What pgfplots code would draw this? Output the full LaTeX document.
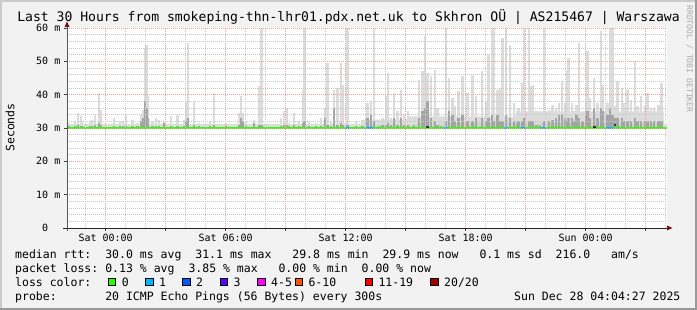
\documentclass[border=0pt]{standalone}
\usepackage{fontspec}
\usepackage{pgfplots}
\usepackage{pgfplotstable}
\pgfplotsset{compat=1.18}
\newfontfamily\mono{DejaVu Sans Mono}
\newcommand\titlefont{\mono\fontsize{13.1}{15}\selectfont}
\newcommand\legfont{\mono\fontsize{11.5}{13}\selectfont}
\newcommand\tickfont{\mono\fontsize{10}{12}\selectfont}
\newcommand\wmfont{\mono\fontsize{8.1}{9}\selectfont}
\definecolor{bg}{HTML}{F2F2F2}
\definecolor{shadea}{HTML}{CBCBCB}
\definecolor{shadeb}{HTML}{999999}
\definecolor{mgrid}{HTML}{F0A0A0}
\definecolor{mingrid}{HTML}{C8C8C8}
\definecolor{arrowc}{HTML}{801010}
\definecolor{smokelight}{HTML}{DCDCDC}
\definecolor{smokedark}{HTML}{A4A4A4}
\definecolor{smokemid}{HTML}{CFCFCF}
\definecolor{lc0}{HTML}{26FF00}
\definecolor{lc1}{HTML}{00B8FF}
\definecolor{lc2}{HTML}{0059FF}
\definecolor{lc3}{HTML}{5E00FF}
\definecolor{lc4}{HTML}{FF00FF}
\definecolor{lc6}{HTML}{FF5500}
\definecolor{lc11}{HTML}{FF0000}
\definecolor{lc20}{HTML}{A10000}
\definecolor{wm}{HTML}{ABABAB}

% t = hours since Sat 00:00, m = median (ms), hi = smoke top above median, lo = dense smoke above median
\pgfplotstableread{
t m hi lo
-1.84 30 1.5 0.5
-1.54 30 2.0 0.5
-1.39 30 4.5 0.8
-1.25 30 3.5 0.6
-1.17 30 2.0 0.5
-0.80 30 2.0 0.5
-0.70 30 2.5 0.5
-0.55 30 4.0 0.8
-0.34 30 10.5 1.5
-0.24 30 5.5 1.0
0.04 30 1.0 0.4
0.17 30 1.0 0.4
0.42 30 3.0 0.6
0.70 30 2.0 0.5
0.87 30 2.0 0.5
1.00 30 3.5 0.6
1.34 30 2.5 0.6
1.59 30 1.5 0.5
1.75 30 4.0 2.0
1.87 30 5.5 3.0
1.97 30 24.0 8.0
2.04 30 25.0 6.0
2.10 30 9.5 3.0
2.34 30 2.0 0.5
2.50 30 3.0 0.6
2.67 30 2.5 0.5
2.92 30 2.0 1.5
3.25 30 3.5 0.6
3.59 30 4.0 0.6
3.92 30 2.5 0.5
4.04 30 8.0 2.0
4.12 30 25.5 3.0
4.42 30 8.0 0.8
4.67 30 1.5 0.5
5.00 30 1.0 0.4
5.20 30 2.0 0.5
5.42 30 10.5 1.0
5.64 30 1.0 0.4
6.00 30 1.5 0.5
6.67 30 4.5 0.8
6.77 30 9.5 3.0
6.87 30 4.5 2.0
7.00 30 2.0 0.5
7.25 30 1.0 0.4
7.42 30 2.5 1.5
7.67 30 12.5 1.0
7.79 30 30.0 1.0
8.09 30 1.0 0.4
8.34 30 1.0 0.4
8.75 30 3.0 0.6
8.92 30 5.0 0.8
9.05 30 6.0 0.8
9.17 30 1.5 0.5
9.42 30 4.5 1.0
9.67 30 2.0 0.5
9.87 30 11.5 1.5
9.94 30 30.0 2.0
10.17 30 2.0 0.5
10.50 30 1.5 0.5
10.75 30 3.0 0.6
10.97 30 6.0 3.0
11.09 30 19.5 1.0
11.25 30 2.0 0.5
11.42 30 11.5 6.0
11.59 30 12.0 1.0
11.75 30 19.5 1.5
11.84 30 13.0 1.0
12.09 30 30.0 1.0
12.25 30 1.0 0.4
12.50 30 2.0 0.5
12.84 30 2.5 0.6
13.09 30 7.5 3.0
13.25 30 8.0 4.0
13.42 30 30.0 2.0
13.67 30 1.5 0.5
13.84 30 3.0 0.8
14.00 30 9.5 1.0
14.10 30 16.5 1.5
14.25 30 3.0 1.0
14.42 30 10.5 3.0
14.59 30 5.0 1.0
14.75 30 11.5 3.0
14.92 30 4.0 1.0
15.12 30 5.0 1.0
15.42 30 2.5 0.8
15.67 30 14.5 3.0
15.84 30 17.0 5.0
15.97 30 27.5 6.0
16.09 30 16.5 8.0
16.25 30 15.5 3.0
16.45 30 17.5 2.0
16.59 30 6.0 1.0
16.75 30 1.5 0.5
17.00 30 30.0 2.0
17.17 30 15.0 5.0
17.34 30 9.0 4.0
17.47 30 6.5 2.0
17.64 30 11.0 3.0
17.84 30 15.5 4.0
18.09 30 10.5 2.0
18.34 30 16.0 2.0
18.50 30 9.5 3.0
18.80 30 17.0 3.0
19.00 30 8.0 2.0
19.14 30 22.0 3.0
19.30 30 30.0 4.0
19.39 30 30.0 2.0
19.59 30 11.5 4.0
19.72 30 12.0 2.0
19.84 30 27.0 2.0
20.00 30 30.0 4.0
20.20 30 25.0 3.0
20.42 30 7.5 2.0
20.59 30 5.0 1.5
20.64 30 6.0 2.0
20.84 30 13.5 2.0
20.92 30 30.0 3.0
21.17 30 30.0 2.0
21.27 30 12.5 2.0
21.37 30 13.0 2.0
21.54 30 5.0 1.0
21.70 30 2.0 0.8
21.92 30 30.0 2.0
22.17 30 5.5 2.0
22.34 30 7.0 2.5
22.50 30 6.0 3.0
22.67 30 7.5 4.0
22.80 30 14.0 4.0
22.97 30 7.5 3.0
23.05 30 17.0 2.0
23.14 30 21.0 3.0
23.30 30 7.5 3.0
23.44 30 5.0 2.0
23.54 30 7.0 4.0
23.67 30 25.5 3.0
23.84 30 4.0 2.0
24.00 30 8.5 4.0
24.09 30 23.0 5.0
24.20 30 9.0 3.0
24.42 30 15.0 6.0
24.59 30 7.5 3.0
24.75 30 29.0 6.0
24.87 30 13.0 5.0
25.09 30 7.5 4.0
25.20 30 30.0 6.0
25.34 30 30.0 4.0
25.45 30 6.5 3.0
25.59 30 14.0 3.0
25.80 30 12.0 3.0
25.92 30 7.5 2.0
26.09 30 11.5 2.0
26.25 30 8.5 2.0
26.45 30 20.0 3.0
26.59 30 6.5 2.0
26.75 30 9.5 2.0
26.95 30 7.0 2.0
27.09 30 10.5 2.0
27.25 30 6.0 2.0
27.42 30 6.0 2.0
27.64 30 7.0 2.0
27.79 30 13.5 2.0
27.92 30 1.0 0.4
}\smoke

\begin{document}
\begin{tikzpicture}
\begin{scope}[x=1pt,y=1pt]
\useasboundingbox (0,0) rectangle (697,310);
\fill[bg] (0,0) rectangle (697,310);
\fill[shadea] (0,0) rectangle (2,310);
\fill[shadea] (0,308) rectangle (697,310);
\fill[shadeb] (695,0) rectangle (697,310);
\fill[shadeb] (0,0) rectangle (697,2);
\end{scope}

\begin{axis}[
  at={(67pt,82pt)}, anchor=south west,
  scale only axis, width=600pt, height=200pt,
  xmin=-1.93, xmax=28.07, ymin=0, ymax=60,
  axis line style={draw=none},
  tick pos=left, tick align=outside,
  major tick length=3pt, minor tick length=0pt,
  every tick/.style={black!75, line width=0.7pt},
  xtick={0,3,...,27},
  xticklabels={Sat 00:00,,Sat 06:00,,Sat 12:00,,Sat 18:00,,Sun 00:00,},
  minor xtick={-1,1,2,4,5,7,8,10,11,13,14,16,17,19,20,22,23,25,26,28},
  ytick={0,10,...,60},
  yticklabels={0\phantom{ m},10 m,20 m,30 m,40 m,50 m,60 m},
  minor ytick={2,4,6,8,12,14,16,18,22,24,26,28,32,34,36,38,42,44,46,48,52,54,56,58},
  xticklabel style={font=\tickfont, inner sep=0pt, yshift=-3pt},
  yticklabel style={font=\tickfont, inner sep=0pt, xshift=-3.5pt},
  grid=both,
  major grid style={mgrid, line width=0.7pt, dash pattern=on 1pt off 1pt},
  minor grid style={mingrid, line width=0.7pt, dash pattern=on 1pt off 1pt},
  axis on top,
  axis background/.style={fill=white},
]
% haze of smoke near the median
\addplot[forget plot, fill=smokelight, draw=none] coordinates {
 (-1.93,30) (-1.93,31.2) (12.8,31.2) (12.9,32.5) (15.0,32.5) (15.2,33.5)
 (20.5,33.5) (20.6,35) (27.9,35) (27.9,31) (28.07,31) (28.07,30)};
\addplot[forget plot, fill=smokemid, draw=none] coordinates {
 (13,30) (13,30.8) (15.5,30.8) (15.6,31.5) (27.9,31.5) (27.9,30)};
% smoke spikes
\addplot[forget plot, draw=none, mark=none,
  error bars/.cd, y dir=plus, y explicit, error mark=none,
  error bar style={line width=2.2pt, draw=smokelight, solid}]
  table[x=t, y=m, y error=hi] {\smoke};
\addplot[forget plot, draw=none, mark=none,
  error bars/.cd, y dir=plus, y explicit, error mark=none,
  error bar style={line width=2.2pt, draw=smokedark, solid}]
  table[x=t, y=m, y error=lo] {\smoke};
% median rtt coloured by loss
\addplot[lc0, line width=2pt, mark=none] coordinates {(-1.93,30) (28.07,30)};
\addplot[lc1, line width=2pt, mark=none] coordinates {(12.0,30) (12.15,30)};
\addplot[lc1, line width=2pt, mark=none] coordinates {(13.0,30) (13.35,30)};
\addplot[lc1, line width=2pt, mark=none] coordinates {(16.9,30) (17.1,30)};
\addplot[lc1, line width=2pt, mark=none] coordinates {(19.9,30) (20.1,30)};
\addplot[lc1, line width=2pt, mark=none] coordinates {(20.75,30) (21.0,30)};
\addplot[lc1, line width=2pt, mark=none] coordinates {(21.75,30) (22.0,30)};
\addplot[lc1, line width=2pt, mark=none] coordinates {(25.0,30) (25.35,30)};
\addplot[only marks, mark=square*, mark size=0.8pt, black!80] coordinates {(16.09,30.4) (24.42,30.4) (25.45,31)};
\end{axis}

\begin{scope}[x=1pt,y=1pt]
% axis lines with arrows
\draw[black!85, line width=0.8pt] (63,82) -- (668,82);
\fill[arrowc] (667,79.5) -- (672.5,82) -- (667,84.5) -- cycle;
\draw[black!65, line width=0.8pt] (67,79) -- (67,284);
\fill[arrowc] (64.5,283) -- (67,288.5) -- (69.5,283) -- cycle;

% titles
\node[anchor=base, inner sep=0pt, font=\titlefont] at (348.5,288.3)
  {Last 30 Hours from smokeping-thn-lhr01.pdx.net.uk to Skhron OÜ | AS215467 | Warszawa};
\node[rotate=90, inner sep=0pt, font=\legfont] at (10,182.5) {Seconds};
\node[rotate=-90, inner sep=0pt, font=\wmfont, text=wm] at (689.5,251) {RRDTOOL / TOBI OETIKER};

% legend lines (column pitch 6.93)
\begin{scope}[every node/.style={anchor=base west, inner sep=0pt, font=\legfont}]
\node at (15,51.7) {median rtt:};
\node at (105.1,51.7) {30.0 ms avg};
\node at (195.2,51.7) {31.1 ms max};
\node at (292.2,51.7) {29.8 ms min};
\node at (382.3,51.7) {29.9 ms now};
\node at (479.3,51.7) {0.1 ms sd};
\node at (555.5,51.7) {216.0};
\node at (611.0,51.7) {am/s};
\node at (15,37.7) {packet loss:};
\node at (105.1,37.7) {0.13 \% avg};
\node at (188.3,37.7) {3.85 \% max};
\node at (278.3,37.7) {0.00 \% min};
\node at (361.5,37.7) {0.00 \% now};
\node at (15,23.7) {loss color:};
\node at (15,9.7) {probe:};
\node at (105.1,9.7) {20 ICMP Echo Pings (56 Bytes) every 300s};
\node at (514,9.7) {Sun Dec 28 04:04:27 2025};
\end{scope}
% loss colour legend
\foreach \xx/\cc/\lab in {108.3/lc0/0, 145.7/lc1/1, 182.7/lc2/2, 220/lc3/3, 257.7/lc4/4-5, 295/lc6/6-10, 365/lc11/11-19, 430.7/lc20/{20/20}}{
  \filldraw[fill=\cc, draw=black, line width=0.8pt] (\xx,24.1) rectangle ++(7.4,7.6);
  \node[anchor=base west, inner sep=0pt, font=\legfont] at (\xx+13.3,23.7) {\lab};
}
\end{scope}
\end{tikzpicture}
\end{document}
